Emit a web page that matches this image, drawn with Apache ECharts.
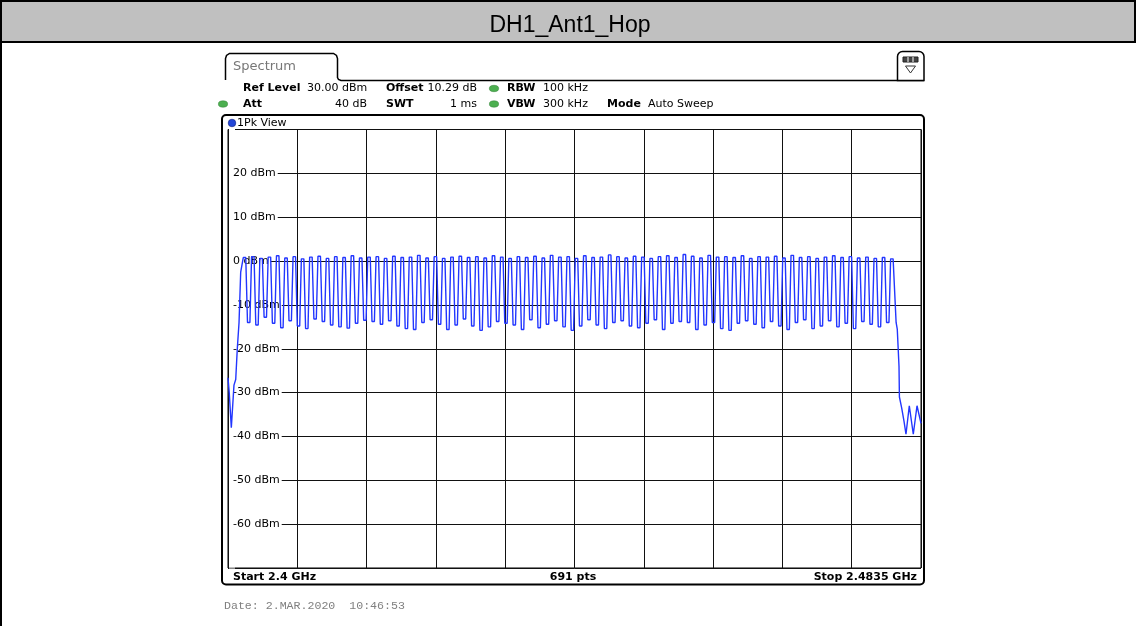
<!DOCTYPE html>
<html>
<head>
<meta charset="utf-8">
<script src="https://cdn.jsdelivr.net/npm/echarts@6/dist/echarts.min.js"></script>
<style>
  html, body { margin: 0; padding: 0; background: #fff; }
  #chart { width: 1136px; height: 626px; }
</style>
</head>
<body>
<div id="chart"></div>
<script>
/* DH1_Ant1_Hop — hopping spectrum, 79 channels, 2.4 .. 2.4835 GHz */

// axis ranges (GHz / dBm)
const startGHz = 2.4;
const stopGHz  = 2.4835;
const refTop   = 30;
const refBot   = -70;

// hop channels: 2402 .. 2480 MHz, 1 MHz apart
const firstChMHz = 2402;
const chCount    = 79;

// peak level of every channel (dBm)
const peaks = [
  0.8, 1.0, 0.6, 0.9, 1.2, 0.7, 1.0, 0.5, 0.9, 1.1, 0.6, 1.0, 0.8, 1.2, 0.7, 0.9,
  1.0, 0.6, 1.1, 0.8, 0.9, 1.3, 0.7, 1.0, 0.6, 0.9, 1.1, 0.8, 1.0, 0.7, 1.2, 0.9,
  0.6, 1.0, 0.8, 1.1, 0.7, 1.3, 0.9, 1.0, 0.6, 1.2, 0.8, 0.9, 1.4, 1.0, 0.7, 1.1,
  0.9, 0.6, 1.0, 1.2, 0.8, 1.5, 1.1, 0.7, 1.3, 0.9, 1.0, 0.8, 1.2, 0.6, 1.0, 0.9,
  1.1, 0.7, 1.3, 0.8, 1.0, 0.6, 0.9, 1.2, 0.8, 1.0, 0.7, 0.9, 0.6, 0.8, 0.5
];

// dip between neighbouring channels (dBm)
const dips = [
  -14.0, -14.6, -12.8, -14.2, -15.2, -13.6, -14.8, -15.4, -13.2, -13.8, -14.6, -15.0, -15.3, -14.2, -13.5, -13.8,
  -14.4, -13.6, -14.8, -15.4, -15.6, -14.0, -13.4, -14.4, -15.6, -14.6, -13.2, -14.8, -15.8, -15.0, -13.8, -14.2,
  -14.6, -15.6, -13.4, -15.2, -14.4, -13.6, -15.0, -15.8, -14.8, -13.4, -14.6, -15.4, -14.0, -13.6, -14.8, -15.2,
  -14.2, -13.4, -15.6, -14.2, -13.8, -14.0, -15.6, -14.6, -14.0, -15.4, -15.8, -14.2, -13.6, -14.4, -15.2, -13.8,
  -14.8, -15.6, -14.0, -13.4, -15.4, -14.8, -13.6, -15.0, -14.2, -15.4, -13.8, -14.4, -15.0, -14.0
];

// trace below the first channel  [GHz, dBm]
const leadIn = [
  [2.40000, -26.6], [2.40015, -30.0], [2.40040, -38.0], [2.40072, -28.3],
  [2.40093, -27.0], [2.40112, -20.0], [2.40133, -14.0], [2.40153, -2.5]
];

// trace above the last channel  [GHz, dBm]
const tailOut = [
  [2.48050, -14.0], [2.48064, -15.5], [2.48085, -24.0], [2.48090, -31.0],
  [2.48117, -33.5], [2.48145, -36.5], [2.48169, -39.5], [2.48190, -39.3],
  [2.48209, -33.0], [2.48226, -33.2], [2.48257, -39.5], [2.48302, -33.0],
  [2.48326, -33.2], [2.48350, -37.0]
];

const yTicks = [20, 10, 0, -10, -20, -30, -40, -50, -60];

/* trace: lead-in, then every channel top and the flat dip before the next one */
const trace = leadIn.slice();
for (let i = 0; i < chCount; i++) {
  const f = (firstChMHz + i) / 1000;
  trace.push([f - 0.00016, peaks[i]]);
  trace.push([f + 0.00014, peaks[i]]);
  if (i < dips.length) {
    trace.push([f + 0.00035, dips[i]]);
    trace.push([f + 0.00064, dips[i]]);
  }
}
tailOut.forEach(p => trace.push(p));

const FONT = '"DejaVu Sans", Verdana, sans-serif';
const bold = (x, y, s, align) => ({
  type: 'text', x, y, silent: true,
  style: { text: s, fill: '#000', font: 'bold 11px ' + FONT, textVerticalAlign: 'middle', textAlign: align || 'left' }
});
const norm = (x, y, s, align) => ({
  type: 'text', x, y, silent: true,
  style: { text: s, fill: '#000', font: '11px ' + FONT, textVerticalAlign: 'middle', textAlign: align || 'left' }
});
/* green status led (flattened circle) */
const led = (cx, cy) => ({
  type: 'circle', silent: true, x: cx, y: cy, scaleX: 1.45,
  shape: { cx: 0, cy: 0, r: 3.2 },
  style: { fill: '#4caf50', stroke: '#2e7d32', lineWidth: 0.4 }
});

const chart = echarts.init(document.getElementById('chart'), null, { renderer: 'canvas' });

chart.setOption({
  animation: false,
  backgroundColor: '#fff',
  grid: {
    left: 228, top: 129.5, width: 693, height: 438.5,
    show: true, borderColor: '#000', borderWidth: 1
  },
  xAxis: [
    { type: 'value', min: startGHz, max: stopGHz, show: false },
    {
      type: 'value', min: 0, max: 10, interval: 1,
      axisLine: { show: false }, axisTick: { show: false }, axisLabel: { show: false },
      splitLine: { show: true, lineStyle: { color: '#111', width: 1 } }
    }
  ],
  yAxis: {
    type: 'value', min: refBot, max: refTop, interval: 10,
    axisLine: { show: false }, axisTick: { show: false },
    splitLine: { show: true, lineStyle: { color: '#111', width: 1 } },
    axisLabel: {
      inside: true, margin: 1, color: '#000', fontSize: 11, fontFamily: FONT,
      backgroundColor: '#fff', padding: [1, 2, 0, 4],
      formatter: v => (yTicks.indexOf(v) >= 0 ? v + ' dBm' : '')
    }
  },
  series: [{
    type: 'line', xAxisIndex: 0, data: trace, showSymbol: false, z: 5,
    lineStyle: { color: '#2236ff', width: 1.4 }
  }],
  graphic: [
    // table header
    { type: 'rect', silent: true, shape: { x: 1, y: 1, width: 1134, height: 41 },
      style: { fill: '#c0c0c0', stroke: '#000', lineWidth: 2 } },
    { type: 'line', silent: true, shape: { x1: 1, y1: 42, x2: 1, y2: 626 },
      style: { stroke: '#000', lineWidth: 2 } },
    { type: 'text', x: 570, y: 26, silent: true,
      style: { text: 'DH1_Ant1_Hop', fill: '#000', font: '23px "Liberation Sans", Arial, sans-serif',
               textAlign: 'center', textVerticalAlign: 'middle' } },

    // Spectrum tab + top rule
    { type: 'polyline', silent: true,
      shape: { points: [[225.5, 80], [225.5, 58.5], [226.5, 55.5], [229.5, 53.5], [333.5, 53.5], [336.5, 55.5],
                        [337.5, 58.5], [337.5, 77.5], [338.5, 79.5], [341, 80.5], [924, 80.5]] },
      style: { fill: null, stroke: '#000', lineWidth: 1.5 } },
    { type: 'text', x: 233, y: 67, silent: true,
      style: { text: 'Spectrum', fill: '#777', font: '13px ' + FONT, textVerticalAlign: 'middle' } },

    // menu button at top right
    { type: 'rect', silent: true, shape: { x: 897.5, y: 51.5, width: 26.5, height: 29, r: [5, 5, 0, 0] },
      style: { fill: '#fff', stroke: '#000', lineWidth: 1.5 } },
    { type: 'rect', silent: true, shape: { x: 903, y: 57, width: 15, height: 5 },
      style: { fill: '#444', stroke: '#222', lineWidth: 1 } },
    { type: 'line', silent: true, shape: { x1: 908, y1: 57, x2: 908, y2: 62 }, style: { stroke: '#fff', lineWidth: 1 } },
    { type: 'line', silent: true, shape: { x1: 913, y1: 57, x2: 913, y2: 62 }, style: { stroke: '#fff', lineWidth: 1 } },
    { type: 'polygon', silent: true, shape: { points: [[905.5, 66], [915.5, 66], [910.5, 73]] },
      style: { fill: null, stroke: '#333', lineWidth: 1 } },

    // settings rows
    bold(243, 88.5, 'Ref Level'), norm(307, 88.5, '30.00 dBm'),
    bold(386, 88.5, 'Offset'), norm(477, 88.5, '10.29 dB', 'right'),
    led(494, 88.5), bold(507, 88.5, 'RBW'), norm(543, 88.5, '100 kHz'),
    led(223, 104), bold(243, 104, 'Att'), norm(367, 104, '40 dB', 'right'),
    bold(386, 104, 'SWT'), norm(477, 104, '1 ms', 'right'),
    led(494, 104), bold(507, 104, 'VBW'), norm(543, 104, '300 kHz'),
    bold(607, 104, 'Mode'), norm(648, 104, 'Auto Sweep'),

    // diagram frame
    { type: 'rect', silent: true, shape: { x: 222, y: 115, width: 702, height: 469.5, r: 4 },
      style: { fill: null, stroke: '#000', lineWidth: 2 } },
    { type: 'circle', silent: true, shape: { cx: 232, cy: 123, r: 3.8 },
      style: { fill: '#2447d8', stroke: '#0d1f80', lineWidth: 0.6 } },
    norm(237, 123, '1Pk View'),

    // footer row
    bold(233, 577, 'Start 2.4 GHz'),
    bold(573, 577, '691 pts', 'center'),
    bold(917, 577, 'Stop 2.4835 GHz', 'right'),

    { type: 'text', x: 224, y: 606, silent: true,
      style: { text: 'Date: 2.MAR.2020  10:46:53', fill: '#808080',
               font: '11.6px "Liberation Mono", "DejaVu Sans Mono", monospace', textVerticalAlign: 'middle' } }
  ]
});
</script>
</body>
</html>
